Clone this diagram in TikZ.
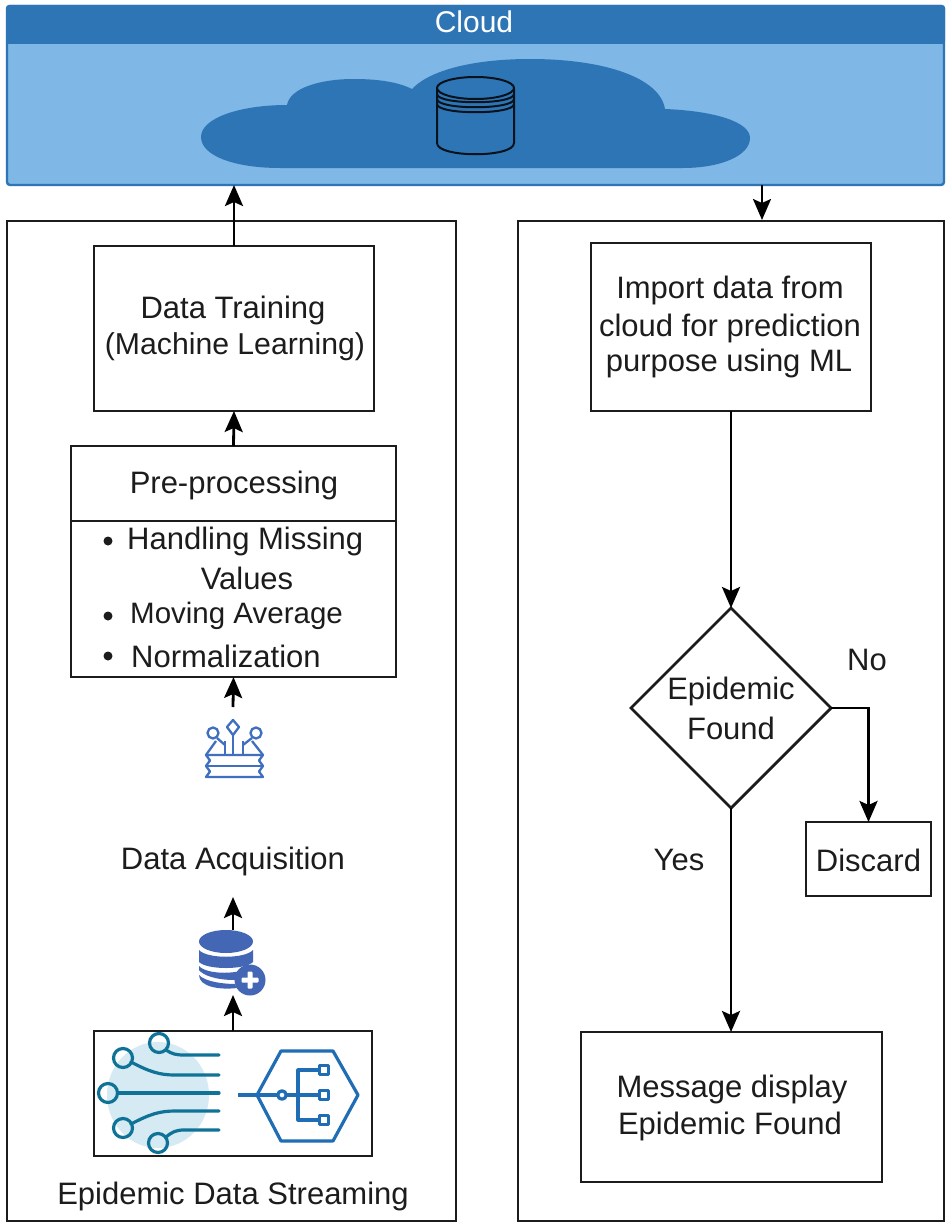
\documentclass[tikz,border=0pt]{standalone}
\usepackage{fontspec}
\setmainfont{Liberation Sans}
\usetikzlibrary{arrows.meta,shapes.geometric}
\definecolor{cloudDark}{HTML}{2E75B6}
\definecolor{cloudLight}{HTML}{7FB7E6}
\definecolor{inkc}{HTML}{1C1C1C}
\definecolor{teal}{HTML}{0F7397}
\definecolor{blob}{HTML}{D6EAF3}
\definecolor{hexb}{HTML}{1F6DB5}
\definecolor{stackb}{HTML}{3F6FBF}
\definecolor{dbb}{HTML}{4467B5}
\tikzset{
  panel/.style={draw=inkc,line width=2.8pt,fill=none,inner sep=0pt,outer sep=0pt,anchor=north west},
  stepbox/.style={draw=inkc,line width=2.8pt,fill=white,inner sep=0pt,outer sep=0pt,align=center,text=inkc,font=\fontsize{31}{37}\selectfont},
  lbl/.style={text=inkc,inner sep=0pt,font=\fontsize{31}{37}\selectfont},
  lblsmall/.style={text=inkc,inner sep=0pt,font=\fontsize{29.5}{37}\selectfont},
  flow/.style={draw=black,line width=2.8pt,-{Stealth[length=21pt,width=18pt,inset=4pt]}},
  tealline/.style={draw=teal,line width=3.2pt,line cap=round},
  hexline/.style={draw=hexb,line width=3.2pt,line join=round},
  stackline/.style={draw=stackb,line width=2.3pt,line join=round}
}
\begin{document}
\begin{tikzpicture}[x=1pt,y=-1pt]
\useasboundingbox (0,0) rectangle (950,1228);
\fill[white] (0,0) rectangle (950,1228);
% cloud container
\node[draw=cloudDark,fill=cloudLight,line width=2.4pt,rounded corners=3pt,minimum width=937pt,minimum height=179pt,inner sep=0pt,outer sep=0pt,anchor=north west] (cloud) at (7,6) {};
\fill[cloudDark,rounded corners=3pt] (6,5) rectangle (945,44);
\node[text=white,inner sep=0pt,font=\fontsize{30}{35}\selectfont] (cloudtitle) at (474,22) {Cloud};
% cloud shape
\fill[cloudDark] (280,168)
  .. controls (235,168) and (201,156) .. (201,137)
  .. controls (201,118) and (240,105) .. (287,105)
  .. controls (290,88) and (320,79) .. (354,79)
  .. controls (378,79) and (398,82) .. (412,89)
  .. controls (432,68) and (480,59) .. (530,59)
  .. controls (605,59) and (660,78) .. (665,109)
  .. controls (715,111) and (750,122) .. (750,138)
  .. controls (750,156) and (720,168) .. (683,168) -- cycle;
% cylinder
\begin{scope}[draw=black!85!cloudDark,line width=2pt]
\draw (437,89) -- (437,143) .. controls (437,158) and (514,158) .. (514,143) -- (514,89);
\draw (475.5,88) ellipse [x radius=38.5pt,y radius=11pt];
\draw (437,94) .. controls (437,105) and (514,105) .. (514,94);
\draw (437,99) .. controls (437,110) and (514,110) .. (514,99);
\draw (437,104) .. controls (437,115) and (514,115) .. (514,104);
\end{scope}
% panels
\node[panel,minimum width=449pt,minimum height=1000pt] (leftpanel) at (7,221) {};
\node[panel,minimum width=426pt,minimum height=1000pt] (rightpanel) at (518,221) {};
\coordinate (cloudout) at (762,185);
\coordinate (panelin) at (762,220);
% left column
\node[stepbox,minimum width=280pt,minimum height=165pt] (train) at (234,328.5) {};
\node[lbl] (t1) at (233,310) {Data Training};
\node[lbl,font=\fontsize{30.2}{37}\selectfont] (t2) at (235,347) {(Machine Learning)};
\node[stepbox,minimum width=325pt,minimum height=75pt] (prehead) at (233.5,483.5) {};
\node[lbl] (t3) at (234,485) {Pre-processing};
\node[stepbox,minimum width=325pt,minimum height=156pt,anchor=north] (prebody) at (233.5,521) {};
\node[lbl,anchor=west] (b1) at (127,541) {Handling Missing};
\node[lbl] (b1b) at (247,578) {Values};
\node[lblsmall,anchor=west] (b2) at (130,616) {Moving Average};
\node[lbl,anchor=west] (b3) at (131,656) {Normalization};
\node[circle,fill=inkc,minimum size=9pt,inner sep=0pt] (d1) at (108,541) {};
\node[circle,fill=inkc,minimum size=9pt,inner sep=0pt] (d2) at (108,616) {};
\node[circle,fill=inkc,minimum size=9pt,inner sep=0pt] (d3) at (108,656) {};
% stack icon
\coordinate (stacktop) at (233,707);
\begin{scope}[stackline]
\draw (206,777) -- (263,777) -- (259,771.5) -- (263,766) -- (259,760.5) -- (263,755) -- (206,755) -- (210,760.5) -- (206,766) -- (210,771.5) -- cycle;
\draw (206,766) -- (263,766);
\draw (206,755) -- (216,741) (263,755) -- (252,741);
\draw (225,755) -- (225,741) (233,755) -- (233,735) (243,755) -- (243,741);
\draw (233,720) -- (239,727) -- (233,735) -- (227,727) -- cycle;
\draw (213,733) circle [radius=5.5pt];
\draw (256,733) circle [radius=5.5pt];
\draw (217,738) -- (225,745) (252,738) -- (243,745);
\end{scope}
\node[lbl] (acq) at (233,861) {Data Acquisition};
% database icon
\coordinate (dbtop) at (233,930);
\coordinate (dbbot) at (233,995);
\fill[dbb] (226,941.5) ellipse [x radius=27pt,y radius=11.5pt];
\fill[dbb] (199,950) .. controls (207,959) and (245,959) .. (253,950) -- (253,962) .. controls (245,970) and (207,970) .. (199,962) -- cycle;
\fill[dbb] (199,966) .. controls (207,975) and (240,975) .. (253,966) -- (253,970) .. controls (240,973) and (236,977) .. (235,980) .. controls (215,980) and (203,975) .. (199,970) -- cycle;
\fill[dbb] (199,975) .. controls (205,982) and (225,984) .. (235,984) .. controls (236,986) and (236,987) .. (237,988) .. controls (220,990) and (199,987) .. (199,975) -- cycle;
\fill[dbb] (250,980) circle [radius=15.5pt];
\fill[white,rounded corners=1pt] (247.5,971.5) rectangle (252.5,988.5);
\fill[white,rounded corners=1pt] (241.5,977.5) rectangle (258.5,982.5);
% stream box
\node[stepbox,minimum width=278pt,minimum height=125pt] (stream) at (233,1093.5) {};
\fill[blob] (158,1095) ellipse [x radius=51pt,y radius=53pt];
\begin{scope}[tealline]
\draw (159,1043) circle [radius=9.5pt];
\draw (123,1058) circle [radius=9.5pt];
\draw (108,1093) circle [radius=9.5pt];
\draw (123,1128) circle [radius=9.5pt];
\draw (158,1143) circle [radius=9.5pt];
\draw (166,1050) .. controls (172,1054) and (176,1055) .. (184,1055) -- (219,1055);
\draw (131,1062) .. controls (150,1072) and (160,1075) .. (175,1075) -- (219,1075);
\draw (118,1093) -- (219,1093);
\draw (131,1124) .. controls (150,1114) and (160,1111) .. (175,1111) -- (219,1111);
\draw (166,1137) .. controls (172,1132) and (176,1130) .. (184,1130) -- (219,1130);
\end{scope}
\begin{scope}[hexline]
\draw (257,1095) -- (281,1051) -- (333,1051) -- (358,1095) -- (333,1141) -- (281,1141) -- cycle;
\draw (238,1095) -- (278,1095) (286,1095) -- (319,1095);
\draw (282,1095) circle [radius=4.2pt];
\draw (319,1070) -- (298,1070) -- (298,1120) -- (319,1120);
\draw (319.5,1065.5) rectangle (328.5,1074.5);
\draw (319.5,1090.5) rectangle (328.5,1099.5);
\draw (319.5,1115.5) rectangle (328.5,1124.5);
\end{scope}
\node[lbl] (streamlbl) at (233,1196) {Epidemic Data Streaming};
% right column
\node[stepbox,minimum width=280pt,minimum height=168pt] (import) at (731,327) {};
\node[lbl] (i1) at (730,290) {Import data from};
\node[lbl] (i2) at (730,328) {cloud for prediction};
\node[lbl] (i3) at (729,363) {purpose using ML};
\node[diamond,draw=inkc,line width=2.8pt,fill=white,minimum width=200pt,minimum height=200pt,inner sep=0pt,outer sep=0pt] (dec) at (731,708) {};
\node[lbl] (dt1) at (731,691) {Epidemic};
\node[lbl] (dt2) at (731,728) {Found};
\node[stepbox,minimum width=125pt,minimum height=74pt] (discard) at (868.5,859) {};
\node[lbl] (dl) at (868.5,860) {Discard};
\node[stepbox,minimum width=301pt,minimum height=150pt] (msg) at (731.5,1107) {};
\node[lbl] (m1) at (732,1089) {Message display};
\node[lbl] (m2) at (730,1126) {Epidemic Found};
\node[lbl] (no) at (867,660) {No};
\node[lbl] (yes) at (679,860) {Yes};
% connectors
\draw[flow] (train.north) -- (train.north |- cloud.south);
\draw[flow,line width=2.2pt] (cloudout) -- (panelin);
\draw[flow] (prehead.north) -- (train.south);
\draw[flow] (stacktop) -- (prebody.south);
\draw[flow] (dbtop) -- (233,897);
\draw[flow] (stream.north) -- (dbbot);
\draw[flow] (import.south) -- (dec.north);
\draw[flow] (dec.east) -| (discard.north);
\draw[flow] (dec.south) -- (msg.north -| dec.south);
\end{tikzpicture}
\end{document}
